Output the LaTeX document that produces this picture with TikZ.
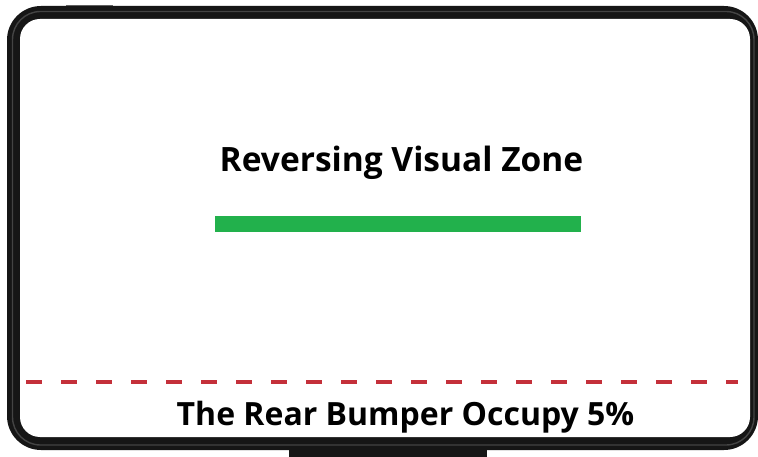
\documentclass[tikz,border=0pt]{standalone}
\usepackage{fontspec}
\setmainfont{Open Sans}
\definecolor{framecol}{HTML}{161616}
\definecolor{framehi}{HTML}{444444}
\definecolor{tabcol}{HTML}{6A6A6A}
\definecolor{zonegreen}{HTML}{22B14C}
\definecolor{dashred}{HTML}{C4303A}
\tikzset{
  label/.style={font=\bfseries, text=black, inner sep=0pt, anchor=base},
}
\begin{document}
\begin{tikzpicture}[x=1pt,y=-1pt]
\useasboundingbox (0,0) rectangle (758,457);
\fill[white] (0,0) rectangle (758,457);
% stand
\fill[framecol] (289,444) rectangle (487,457);
% top tab
\fill[tabcol] (66,5) rectangle (113,7);
% frame
\fill[framecol, rounded corners=34pt] (7,6) rectangle (758,450);
\draw[framehi, line width=1.4pt, rounded corners=28pt] (12.5,11.5) rectangle (754,445);
\fill[white, rounded corners=20pt] (20,19) rectangle (750,437);
% title
\node[label, font=\fontsize{33.5}{38}\selectfont\bfseries] (title) at (401.5,172) {Reversing Visual Zone};
% green bar
\fill[zonegreen] (215,216) rectangle (581,232);
\coordinate (dl) at (26,382);
\coordinate (dr) at (738,382);
\draw[dashred, line width=4pt, dash pattern=on 16pt off 19pt, dash phase=0pt] (dl) -- (dr);
\node[label, font=\fontsize{32}{36}\selectfont\bfseries] (bumper) at (405.5,425) {The Rear Bumper Occupy 5\%};
\end{tikzpicture}
\end{document}
